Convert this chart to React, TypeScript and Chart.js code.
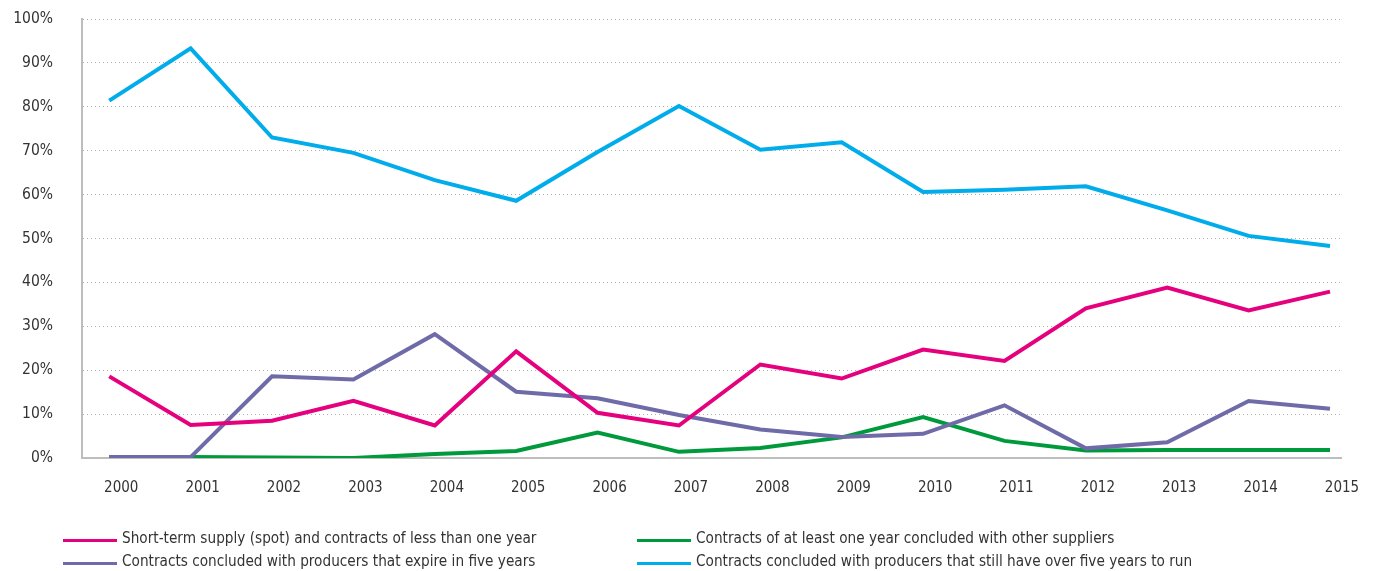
import React, { useEffect, useRef } from "react";
import { Chart, registerables } from "chart.js";

Chart.register(...registerables);

const years = [2000, 2001, 2002, 2003, 2004, 2005, 2006, 2007, 2008, 2009, 2010, 2011, 2012, 2013, 2014, 2015];
const yTicks = [0, 10, 20, 30, 40, 50, 60, 70, 80, 90, 100];

const spotShort = [18.6, 7.5, 8.5, 13.0, 7.4, 24.3, 10.3, 7.4, 21.3, 18.1, 24.7, 22.1, 34.1, 38.8, 33.6, 37.9];
const otherSuppliers = [0.2, 0.2, 0.1, 0.0, 0.9, 1.6, 5.8, 1.4, 2.3, 4.7, 9.3, 3.9, 1.7, 1.8, 1.8, 1.8];
const expireFive = [0.2, 0.2, 18.6, 17.9, 28.2, 15.1, 13.6, 9.8, 6.5, 4.8, 5.5, 12.0, 2.2, 3.6, 13.0, 11.2];
const overFive = [81.4, 93.3, 73.0, 69.5, 63.3, 58.6, 69.7, 80.2, 70.2, 71.9, 60.6, 61.1, 61.9, 56.4, 50.6, 48.3];

const seriesNames = [
  "Short-term supply (spot) and contracts of less than one year",
  "Contracts of at least one year concluded with other suppliers",
  "Contracts concluded with producers that expire in five years",
  "Contracts concluded with producers that still have over five years to run",
];
const seriesColors = ["#e5007d", "#009a3d", "#6f6ba8", "#00acea"];
const seriesValues = [spotShort, otherSuppliers, expireFive, overFive];

const FONT = "'Liberation Sans Narrow', 'DejaVu Sans Condensed', 'Liberation Sans', sans-serif";

export default function App() {
  const ref = useRef<HTMLCanvasElement | null>(null);

  useEffect(() => {
    if (!ref.current) return;
    const chart = new Chart(ref.current, {
      type: "line",
      data: {
        datasets: seriesValues.map((vals, i) => ({
          label: seriesNames[i],
          data: vals.map((v, j) => ({ x: years[j], y: v })),
          borderColor: seriesColors[i],
          backgroundColor: seriesColors[i],
          borderWidth: 4,
          pointRadius: 0,
          tension: 0,
          fill: false,
          order: [0, 3, 2, 1][i],
        })),
      },
      options: {
        animation: false,
        responsive: false,
        maintainAspectRatio: false,
        layout: { padding: { top: 19, right: 37, bottom: 63, left: 0 } },
        plugins: { legend: { display: false }, tooltip: { enabled: false } },
        scales: {
          x: {
            type: "linear",
            min: 1999.665,
            max: 2015.135,
            afterBuildTicks: (scale: any) => {
              scale.ticks = years.map((v) => ({ value: v }));
            },
            afterFit: (scale: any) => {
              scale.height = 50;
              scale.paddingLeft = 0;
              scale.paddingRight = 0;
            },
            grid: { display: false, drawTicks: false },
            border: { display: true, color: "#bdbdbd", width: 2 },
            ticks: {
              padding: 21,
              labelOffset: 12,
              maxRotation: 0,
              autoSkip: false,
              color: "#333333",
              font: { family: FONT, size: 15 },
              callback: (v: any) => String(v),
            },
          },
          y: {
            type: "linear",
            min: 0,
            max: 100,
            afterBuildTicks: (scale: any) => {
              scale.ticks = yTicks.map((v) => ({ value: v }));
            },
            afterFit: (scale: any) => {
              scale.width = 82;
              scale.paddingTop = 0;
              scale.paddingBottom = 0;
            },
            grid: { color: "#b0b0b0", lineWidth: 1, drawTicks: false },
            border: { display: true, color: "#bdbdbd", width: 2, dash: [1, 3] },
            ticks: {
              padding: 29,
              color: "#333333",
              font: { family: FONT, size: 15.5 },
              callback: (v: any) => v + "%",
            },
          },
        },
      },
    });
    return () => chart.destroy();
  }, []);

  const legendItem = (i: number, left: number, top: number) => (
    <div
      key={i}
      style={{
        position: "absolute",
        left,
        top,
        display: "flex",
        alignItems: "center",
        fontFamily: FONT,
        fontSize: 15.2,
        color: "#333333",
        whiteSpace: "nowrap",
        lineHeight: "20px",
      }}
    >
      <span
        style={{
          display: "inline-block",
          width: 54,
          height: 3,
          background: seriesColors[i],
          marginRight: 5,
          marginTop: 4,
        }}
      />
      <span>{seriesNames[i]}</span>
    </div>
  );

  return (
    <div style={{ position: "fixed", left: 0, top: 0, width: 1378, height: 571, background: "#fff" }}>
      <canvas ref={ref} width={1378} height={571} style={{ width: 1378, height: 571, display: "block" }} />
      {legendItem(0, 63, 528)}
      {legendItem(1, 637, 528)}
      {legendItem(2, 63, 551)}
      {legendItem(3, 637, 551)}
    </div>
  );
}
